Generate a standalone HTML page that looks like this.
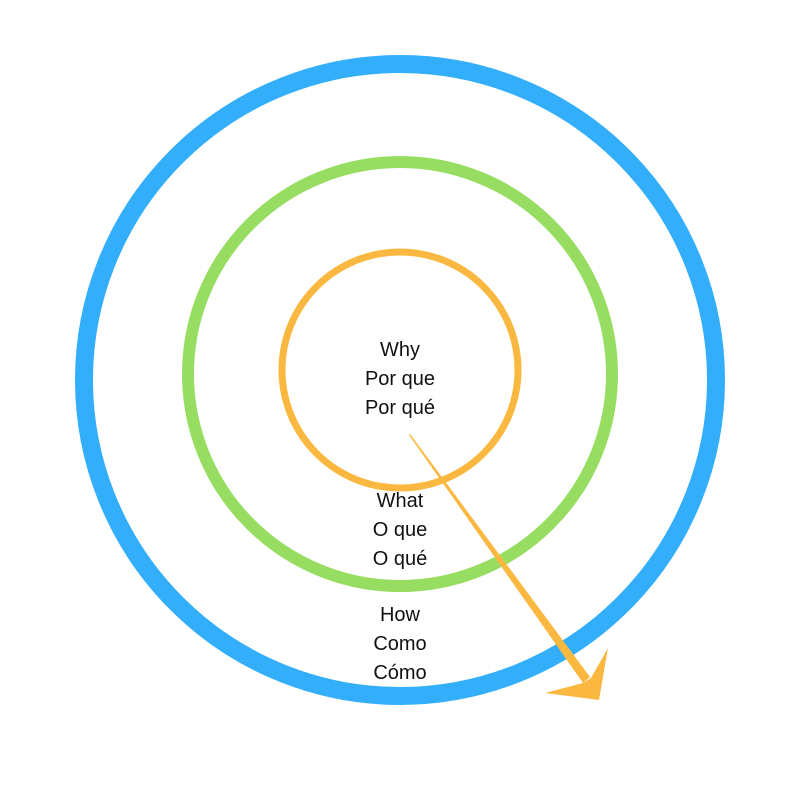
<!DOCTYPE html>
<html><head><style>
body{margin:0;background:#fff;width:800px;height:800px;overflow:hidden}
svg text{font-family:"Liberation Sans",sans-serif;font-size:20px;fill:#111;text-anchor:middle}
</style></head><body>
<svg width="800" height="800" viewBox="0 0 800 800">
<circle cx="400" cy="380" r="316" fill="none" stroke="#33aefa" stroke-width="18"/>
<circle cx="400" cy="374" r="212" fill="none" stroke="#96dd62" stroke-width="12"/>
<circle cx="400" cy="370" r="118" fill="none" stroke="#fbb840" stroke-width="7"/>
<text x="400" y="356">Why</text>
<text x="400" y="385">Por que</text>
<text x="400" y="414">Por qué</text>
<text x="400" y="507">What</text>
<text x="400" y="536">O que</text>
<text x="400" y="565">O qué</text>
<text x="400" y="621">How</text>
<text x="400" y="650">Como</text>
<text x="400" y="679">Cómo</text>
<polygon points="409,435 410,434 590,677 583,683" fill="#fbb840"/>
<polygon points="599,700 545,693 583,683 591,678 608,648" fill="#fbb840"/>
</svg>
</body></html>
